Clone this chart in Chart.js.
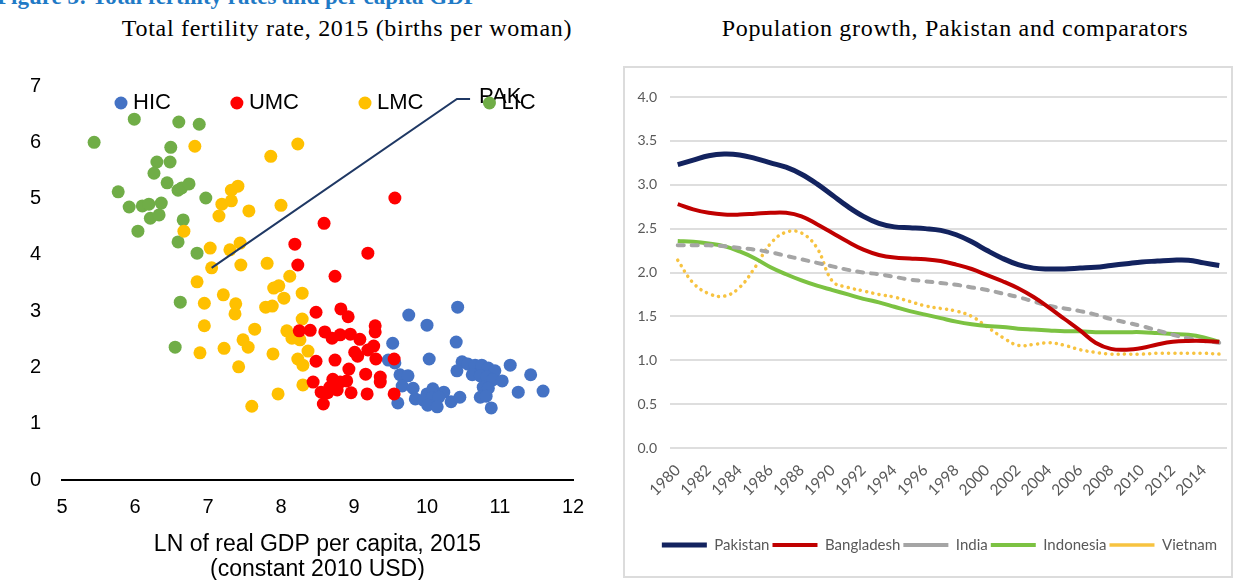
<!DOCTYPE html>
<html>
<head>
<meta charset="utf-8">
<script src="https://cdn.jsdelivr.net/npm/chart.js@4.4.0/dist/chart.umd.min.js"></script>
<style>
html,body{margin:0;padding:0;width:1237px;height:580px;overflow:hidden;background:#fff;position:relative;}
#cap{position:absolute;left:-3px;top:-13px;font:bold 23px 'Liberation Serif';line-height:20px;color:#1F7AC6;white-space:nowrap;}
.ttl{position:absolute;top:15px;font:24px 'Liberation Serif';line-height:26px;letter-spacing:0.7px;color:#000;white-space:nowrap;transform:translateX(-50%);}
#cL{position:absolute;left:0;top:0;}
#frame{position:absolute;left:623px;top:66px;width:610px;height:512px;border:2px solid #dcdcdc;box-sizing:border-box;}
#cR{position:absolute;left:625px;top:68px;}
</style>
</head>
<body>
<div id="cap">Figure 3: Total fertility rates and per capita GDP</div>
<div class="ttl" style="left:347px">Total fertility rate, 2015 (births per woman)</div>
<div class="ttl" style="left:955px">Population growth, Pakistan and comparators</div>
<canvas id="cL" width="610" height="585"></canvas>
<div id="frame"></div>
<canvas id="cR" width="629" height="508"></canvas>
<script>
// ---------- Left panel: TFR vs LN GDP per capita ----------
const hicGdp = [10.42,9.75,10.00,9.53,10.40,10.03,9.47,9.56,10.48,10.56,10.41,10.66,10.75,10.84,10.93,10.62,10.73,10.82,10.90,11.03,11.14,11.42,10.77,10.84,9.63,9.74,9.66,9.81,10.73,10.81,11.25,11.59,10.88,9.60,9.84,10.00,10.08,10.23,9.95,10.07,10.16,10.33,10.45,10.01,10.14];
const hicTfr = [3.07,2.93,2.75,2.43,2.45,2.15,2.13,2.08,2.10,2.06,1.94,2.04,2.04,1.99,1.94,1.87,1.85,1.83,1.78,1.76,2.04,1.87,1.65,1.63,1.87,1.85,1.67,1.63,1.47,1.49,1.56,1.58,1.28,1.37,1.44,1.53,1.62,1.56,1.42,1.46,1.47,1.39,1.47,1.33,1.30];
const umcGdp = [9.56,8.59,8.19,9.19,8.23,8.74,8.48,8.82,8.92,9.29,9.29,8.25,8.40,8.60,8.70,8.81,8.95,9.08,9.27,9.19,9.01,9.05,9.30,9.55,8.48,8.74,8.93,9.16,9.36,9.36,8.44,8.71,8.81,8.90,8.67,8.55,8.64,8.77,8.96,9.18,8.58,9.55];
const umcTfr = [5.01,4.56,4.19,4.03,3.82,3.62,2.98,3.04,2.90,2.74,2.63,2.65,2.66,2.63,2.52,2.58,2.59,2.50,2.38,2.31,2.27,2.20,2.15,2.15,2.11,2.13,1.97,1.88,1.83,1.74,1.74,1.79,1.74,1.76,1.65,1.56,1.55,1.60,1.55,1.53,1.35,1.53];
const lmcGdp = [6.82,7.32,7.41,7.32,7.19,7.15,7.56,6.67,7.03,7.30,7.44,7.45,7.05,6.85,7.21,7.38,7.37,6.95,6.95,7.64,7.48,7.55,7.22,6.89,7.42,7.60,8.23,7.86,8.00,7.81,8.12,7.90,7.97,8.04,8.29,7.79,7.88,8.29,8.08,8.15,8.26,7.89,8.37,8.23,8.30,8.30,7.96];
const lmcTfr = [5.93,5.15,5.22,4.96,4.90,4.69,4.78,4.42,4.12,4.09,4.21,3.82,3.77,3.52,3.29,3.13,2.95,3.14,2.74,2.68,2.49,2.36,2.34,2.26,2.01,1.31,5.97,5.75,4.88,3.85,3.62,3.41,3.45,3.23,3.32,3.07,3.09,2.86,2.65,2.52,2.49,2.24,2.29,2.15,2.04,1.69,1.53];
const licGdp = [5.99,6.60,6.88,5.44,6.49,6.30,6.48,6.26,6.44,6.59,6.64,6.74,6.97,5.77,5.92,6.10,6.19,6.36,6.21,6.33,6.04,6.66,6.59,6.85,6.62,6.55];
const licTfr = [6.41,6.36,6.32,6.00,5.91,5.65,5.65,5.45,5.28,5.15,5.19,5.26,5.01,5.12,4.85,4.87,4.90,4.92,4.65,4.71,4.42,4.62,4.23,4.03,3.16,2.36];
// PAK callout: point, elbow, end of leader line
const pakCalloutX = [7.05, 10.41, 10.59];
const pakCalloutY = [3.77, 6.77, 6.77];
const xTicksL = [5,6,7,8,9,10,11,12];
const yTicksL = [0,1,2,3,4,5,6,7];

// ---------- Right panel: population growth ----------
const years = ['1980','1981','1982','1983','1984','1985','1986','1987','1988','1989','1990','1991','1992','1993','1994','1995','1996','1997','1998','1999','2000','2001','2002','2003','2004','2005','2006','2007','2008','2009','2010','2011','2012','2013','2014','2015'];
const pakistan   = [3.23,3.28,3.33,3.35,3.34,3.30,3.25,3.20,3.12,3.01,2.88,2.75,2.64,2.56,2.52,2.51,2.50,2.48,2.43,2.35,2.25,2.16,2.09,2.05,2.04,2.04,2.05,2.06,2.08,2.10,2.12,2.13,2.14,2.14,2.11,2.08];
const bangladesh = [2.78,2.72,2.68,2.66,2.66,2.67,2.68,2.68,2.64,2.55,2.45,2.35,2.26,2.20,2.17,2.16,2.15,2.13,2.09,2.04,1.97,1.90,1.82,1.72,1.60,1.47,1.34,1.20,1.13,1.12,1.14,1.18,1.21,1.22,1.22,1.21];
const india      = [2.31,2.31,2.31,2.30,2.28,2.26,2.23,2.19,2.15,2.11,2.07,2.03,2.00,1.98,1.95,1.92,1.90,1.88,1.86,1.83,1.80,1.76,1.72,1.67,1.62,1.59,1.56,1.52,1.47,1.43,1.39,1.34,1.29,1.25,1.22,1.20];
const indonesia  = [2.36,2.35,2.33,2.30,2.24,2.16,2.06,1.98,1.91,1.85,1.80,1.75,1.70,1.66,1.61,1.56,1.52,1.48,1.44,1.41,1.39,1.38,1.36,1.35,1.34,1.33,1.33,1.32,1.32,1.32,1.32,1.31,1.30,1.29,1.26,1.21];
const vietnam    = [2.14,1.88,1.76,1.73,1.83,2.06,2.33,2.46,2.45,2.28,1.90,1.83,1.79,1.75,1.72,1.67,1.62,1.59,1.56,1.50,1.38,1.26,1.17,1.18,1.20,1.17,1.12,1.09,1.07,1.07,1.07,1.08,1.08,1.08,1.08,1.07];

const pts = (xs, ys) => xs.map((x, i) => ({x: x, y: ys[i]}));

const scatterLegend = {
  id: 'scatterLegend',
  afterDraw(chart) {
    const ctx = chart.ctx, a = chart.chartArea;
    ctx.save();
    ctx.font = '22px "Liberation Sans"';
    ctx.textBaseline = 'middle';
    let x = a.left + 59;
    const y = a.top + 17;
    chart.data.datasets.filter(d => d.inLegend).forEach(ds => {
      ctx.fillStyle = ds.backgroundColor;
      ctx.beginPath(); ctx.arc(x, y, 6.5, 0, Math.PI * 2); ctx.fill();
      ctx.fillStyle = '#000';
      ctx.fillText(ds.label, x + 12, y);
      x = x + 12 + ctx.measureText(ds.label).width + 66;
    });
    ctx.restore();
  }
};
const pakLabel = {
  id: 'pakLabel',
  afterDatasetsDraw(chart) {
    const idx = chart.data.datasets.findIndex(d => d.label === 'PAK');
    const meta = chart.getDatasetMeta(idx);
    const last = meta.data[meta.data.length - 1];
    const ctx = chart.ctx;
    ctx.save();
    ctx.font = '22px "Liberation Sans"';
    ctx.fillStyle = '#000';
    ctx.textBaseline = 'middle';
    ctx.fillText('PAK', last.x + 9, last.y - 2);
    ctx.restore();
  }
};
// shift the bottom legend of the right panel so it is centred as in the original
const legendShift = {
  id: 'legendShift',
  afterLayout(chart) {
    if (chart.legend) { chart.legend.left += 13.5; chart.legend.right += 13.5; }
  }
};

new Chart(document.getElementById('cL'), {
  type: 'scatter',
  data: {
    datasets: [
      {label: 'HIC', data: pts(hicGdp, hicTfr), backgroundColor: '#4472C4', order: 3, inLegend: true},
      {label: 'UMC', data: pts(umcGdp, umcTfr), backgroundColor: '#FF0000', order: 0, inLegend: true},
      {label: 'LMC', data: pts(lmcGdp, lmcTfr), backgroundColor: '#FFC000', order: 1, inLegend: true},
      {label: 'LIC', data: pts(licGdp, licTfr), backgroundColor: '#70AD47', order: 2, inLegend: true},
      {label: 'PAK', type: 'line', data: pts(pakCalloutX, pakCalloutY), borderColor: '#1F3864', borderWidth: 2,
       pointRadius: 0, pointHoverRadius: 0, showLine: true, fill: false, tension: 0, order: -1}
    ]
  },
  options: {
    responsive: false, animation: false,
    layout: {padding: {left: 0, top: 86, right: 37, bottom: 0}},
    elements: {point: {radius: 6.5, hoverRadius: 6.5, borderWidth: 0}},
    plugins: {legend: {display: false}, tooltip: {enabled: false}},
    scales: {
      x: {
        type: 'linear', min: 5, max: 12,
        afterBuildTicks: s => { s.ticks = xTicksL.map(v => ({value: v})); },
        ticks: {padding: 15, color: '#000', font: {family: 'Liberation Sans', size: 20}},
        grid: {display: false, drawTicks: false},
        border: {display: true, color: '#000', width: 2},
        title: {display: true, text: ['LN of real GDP per capita, 2015', '(constant 2010 USD)'], color: '#000',
                font: {family: 'Liberation Sans', size: 23, lineHeight: 1.087}, padding: {top: 0, bottom: 2.5}},
        afterFit: s => { s.height = 105; }
      },
      y: {
        min: 0, max: 7,
        afterBuildTicks: s => { s.ticks = yTicksL.map(v => ({value: v})); },
        ticks: {padding: 21, color: '#000', font: {family: 'Liberation Sans', size: 20}},
        grid: {display: false, drawTicks: false},
        border: {display: false},
        afterFit: s => { s.width = 62; }
      }
    }
  },
  plugins: [scatterLegend, pakLabel]
});

new Chart(document.getElementById('cR'), {
  type: 'line',
  data: {
    labels: years,
    datasets: [
      {label: 'Pakistan', data: pakistan, borderColor: '#13235F', backgroundColor: '#13235F', borderWidth: 5},
      {label: 'Bangladesh', data: bangladesh, borderColor: '#C00000', backgroundColor: '#C00000', borderWidth: 4},
      {label: 'India', data: india, borderColor: '#A5A5A5', backgroundColor: '#A5A5A5', borderWidth: 4, borderDash: [6, 8], borderCapStyle: 'round'},
      {label: 'Indonesia', data: indonesia, borderColor: '#7CC242', backgroundColor: '#7CC242', borderWidth: 4},
      {label: 'Vietnam', data: vietnam, borderColor: '#F7C340', backgroundColor: '#F7C340', borderWidth: 3.5, borderDash: [0.1, 6.2], borderCapStyle: 'round'}
    ]
  },
  options: {
    responsive: false, animation: false,
    layout: {padding: {left: 0, right: 27, top: 29, bottom: 13.5}},
    elements: {point: {radius: 0, hoverRadius: 0}, line: {tension: 0.4, fill: false}},
    plugins: {
      tooltip: {enabled: false},
      legend: {
        position: 'bottom',
        labels: {usePointStyle: true, pointStyle: 'line', pointStyleWidth: 45, padding: 3,
                 color: '#595959', font: {family: 'Lato', size: 15}}
      }
    },
    scales: {
      x: {
        offset: true,
        grid: {display: false, drawTicks: false},
        border: {display: false},
        ticks: {autoSkip: false, maxRotation: 45, minRotation: 45, padding: 13, color: '#595959',
                font: {family: 'Lato', size: 15.5},
                callback: function (v) { const l = this.getLabelForValue(v); return (+l) % 2 === 0 ? l : ''; }},
        afterFit: s => { s.height = 86.5; }
      },
      y: {
        min: 0, max: 4,
        ticks: {stepSize: 0.5, padding: 13, color: '#595959', font: {family: 'Lato', size: 14},
                callback: v => v.toFixed(1)},
        grid: {color: '#DEDEDE', lineWidth: 2, drawTicks: false},
        border: {display: false},
        afterFit: s => { s.width = 45; }
      }
    }
  },
  plugins: [legendShift]
});
</script>
</body>
</html>
